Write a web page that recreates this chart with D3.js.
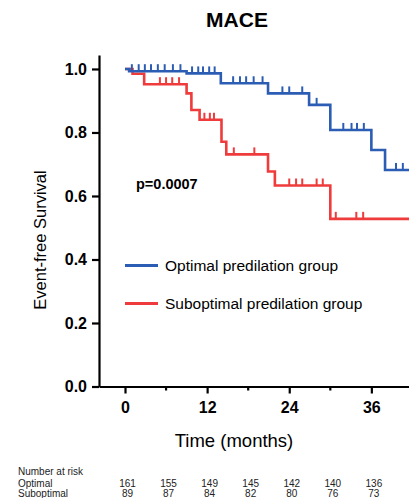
<!DOCTYPE html>
<html>
<head>
<meta charset="utf-8">
<script src="https://cdn.jsdelivr.net/npm/d3@7"></script>
<style>
  body { margin: 0; background: #fff; }
  svg { display: block; font-family: "Liberation Sans", Arial, Helvetica, sans-serif; }
</style>
</head>
<body>
<div id="chart"></div>
<script>
// survival steps [month, survival]
const optimalSteps = [[0, 1.0], [0.6, 0.993], [9, 0.986], [14, 0.955], [20.9, 0.923], [26.9, 0.887], [30, 0.808], [36, 0.745], [38, 0.682]];
const suboptimalSteps = [[0, 1.0], [1.1, 0.985], [2.8, 0.952], [9, 0.923], [9.7, 0.871], [10.9, 0.84], [14.1, 0.771], [14.8, 0.731], [20.9, 0.677], [21.9, 0.633], [30, 0.528]];

// censoring marks (months)
const optimalCensor = [1.0, 2.0, 2.9, 3.8, 4.8, 5.8, 7.0, 8.1, 9.8, 10.7, 11.4, 12.3, 13.1, 15.8, 16.8, 17.7, 18.8, 20.1, 23.0, 24.0, 25.9, 28.0, 31.9, 33.1, 33.9, 34.9, 39.6, 40.6];
const suboptimalCensor = [5.1, 6.0, 6.9, 7.9, 11.6, 12.4, 13.0, 15.9, 18.9, 24.0, 25.0, 25.9, 28.0, 28.9, 30.8, 33.8, 34.8];

const xMajorTicks = [0, 12, 24, 36];
const xMinorTicks = [6, 18, 30];
const yTicks = [0, 0.2, 0.4, 0.6, 0.8, 1.0];

const riskMonths = [0, 6, 12, 18, 24, 30, 36];
const atRiskOptimal = [161, 155, 149, 145, 142, 140, 136];
const atRiskSuboptimal = [89, 87, 84, 82, 80, 76, 73];

const seriesNames = ['Optimal predilation group', 'Suboptimal predilation group'];
const riskNames = ['Optimal', 'Suboptimal'];

const width = 409;
const height = 498;
const blue = '#2c5db4';
const red = '#ef3b3b';
const endMonth = 41.5;

const x = d3.scaleLinear().domain([-3.8, endMonth]).range([99, 409]);
const y = d3.scaleLinear().domain([0, 1.044]).range([386.5, 55]);

const svg = d3.select('#chart').append('svg')
  .attr('width', width)
  .attr('height', height);

// title
svg.append('text')
  .attr('x', 237).attr('y', 27)
  .attr('text-anchor', 'middle')
  .style('font-size', '21px').style('font-weight', 'bold')
  .text('MACE');

// y axis
const yAxis = svg.append('g')
  .attr('transform', `translate(${x(-3.8)},0)`)
  .call(d3.axisLeft(y).tickValues(yTicks).tickFormat(d3.format('.1f')).tickSize(7).tickSizeOuter(0).tickPadding(5));

// x axis
const xAxis = svg.append('g')
  .attr('transform', `translate(0,${y(0)})`)
  .call(d3.axisBottom(x).tickValues(xMajorTicks).tickSize(7).tickSizeOuter(0).tickPadding(8));

svg.append('g')
  .attr('transform', `translate(0,${y(0)})`)
  .selectAll('line')
  .data(xMinorTicks)
  .join('line')
  .attr('x1', (d) => x(d)).attr('x2', (d) => x(d))
  .attr('y1', 0).attr('y2', 4)
  .attr('stroke', '#000').attr('stroke-width', 2.2);

[yAxis, xAxis].forEach((g) => {
  g.selectAll('path, line').attr('stroke', '#000').attr('stroke-width', 2.2);
  g.selectAll('text')
    .attr('fill', '#000')
    .style('font-size', '16px')
    .style('font-weight', 'bold')
    .style('font-family', '"Liberation Sans", Arial, sans-serif');
});

// axis titles
svg.append('text')
  .attr('transform', 'translate(46,240) rotate(-90)')
  .attr('text-anchor', 'middle')
  .style('font-size', '16.5px')
  .text('Event-free Survival');

svg.append('text')
  .attr('x', 234).attr('y', 447)
  .attr('text-anchor', 'middle')
  .style('font-size', '18.5px')
  .text('Time (months)');

// survival curves
const line = d3.line()
  .x((d) => x(d[0]))
  .y((d) => y(d[1]))
  .curve(d3.curveStepAfter);

function stepValue(steps, t) {
  let v = steps[0][1];
  steps.forEach((s) => {
    if (s[0] <= t) v = s[1];
  });
  return v;
}

function drawCurve(steps, censor, color) {
  const pts = steps.concat([[endMonth, steps[steps.length - 1][1]]]);
  svg.append('path')
    .datum(pts)
    .attr('d', line)
    .attr('fill', 'none')
    .attr('stroke', color)
    .attr('stroke-width', 2.6);

  svg.append('g')
    .selectAll('line')
    .data(censor)
    .join('line')
    .attr('x1', (d) => x(d)).attr('x2', (d) => x(d))
    .attr('y1', (d) => y(stepValue(steps, d)))
    .attr('y2', (d) => y(stepValue(steps, d)) - 7)
    .attr('stroke', color)
    .attr('stroke-width', 2);
}

drawCurve(suboptimalSteps, suboptimalCensor, red);
drawCurve(optimalSteps, optimalCensor, blue);

// p value
svg.append('text')
  .attr('x', 136).attr('y', 189)
  .style('font-size', '14.5px').style('font-weight', 'bold')
  .text('p=0.0007');

// legend
const legend = svg.append('g');
const legendRows = [{ name: seriesNames[0], color: blue, y: 265.5 }, { name: seriesNames[1], color: red, y: 303.5 }];
legendRows.forEach((r) => {
  legend.append('line')
    .attr('x1', 125).attr('x2', 158)
    .attr('y1', r.y).attr('y2', r.y)
    .attr('stroke', r.color).attr('stroke-width', 2.8);
  legend.append('text')
    .attr('x', 165).attr('y', r.y)
    .attr('dy', '0.35em')
    .style('font-size', '15.5px')
    .text(r.name);
});

// number at risk table
const risk = svg.append('g').style('font-size', '10px').attr('fill', '#222');
risk.append('text').attr('x', 18).attr('y', 475).text('Number at risk');
[atRiskOptimal, atRiskSuboptimal].forEach((vals, i) => {
  const yy = 486.5 + i * 10;
  risk.append('text').attr('x', 18).attr('y', yy).text(riskNames[i]);
  risk.selectAll(null)
    .data(vals)
    .join('text')
    .attr('x', (d, j) => x(riskMonths[j]) + 2.5)
    .attr('y', yy)
    .attr('text-anchor', 'middle')
    .text((d) => d);
});
</script>
</body>
</html>
